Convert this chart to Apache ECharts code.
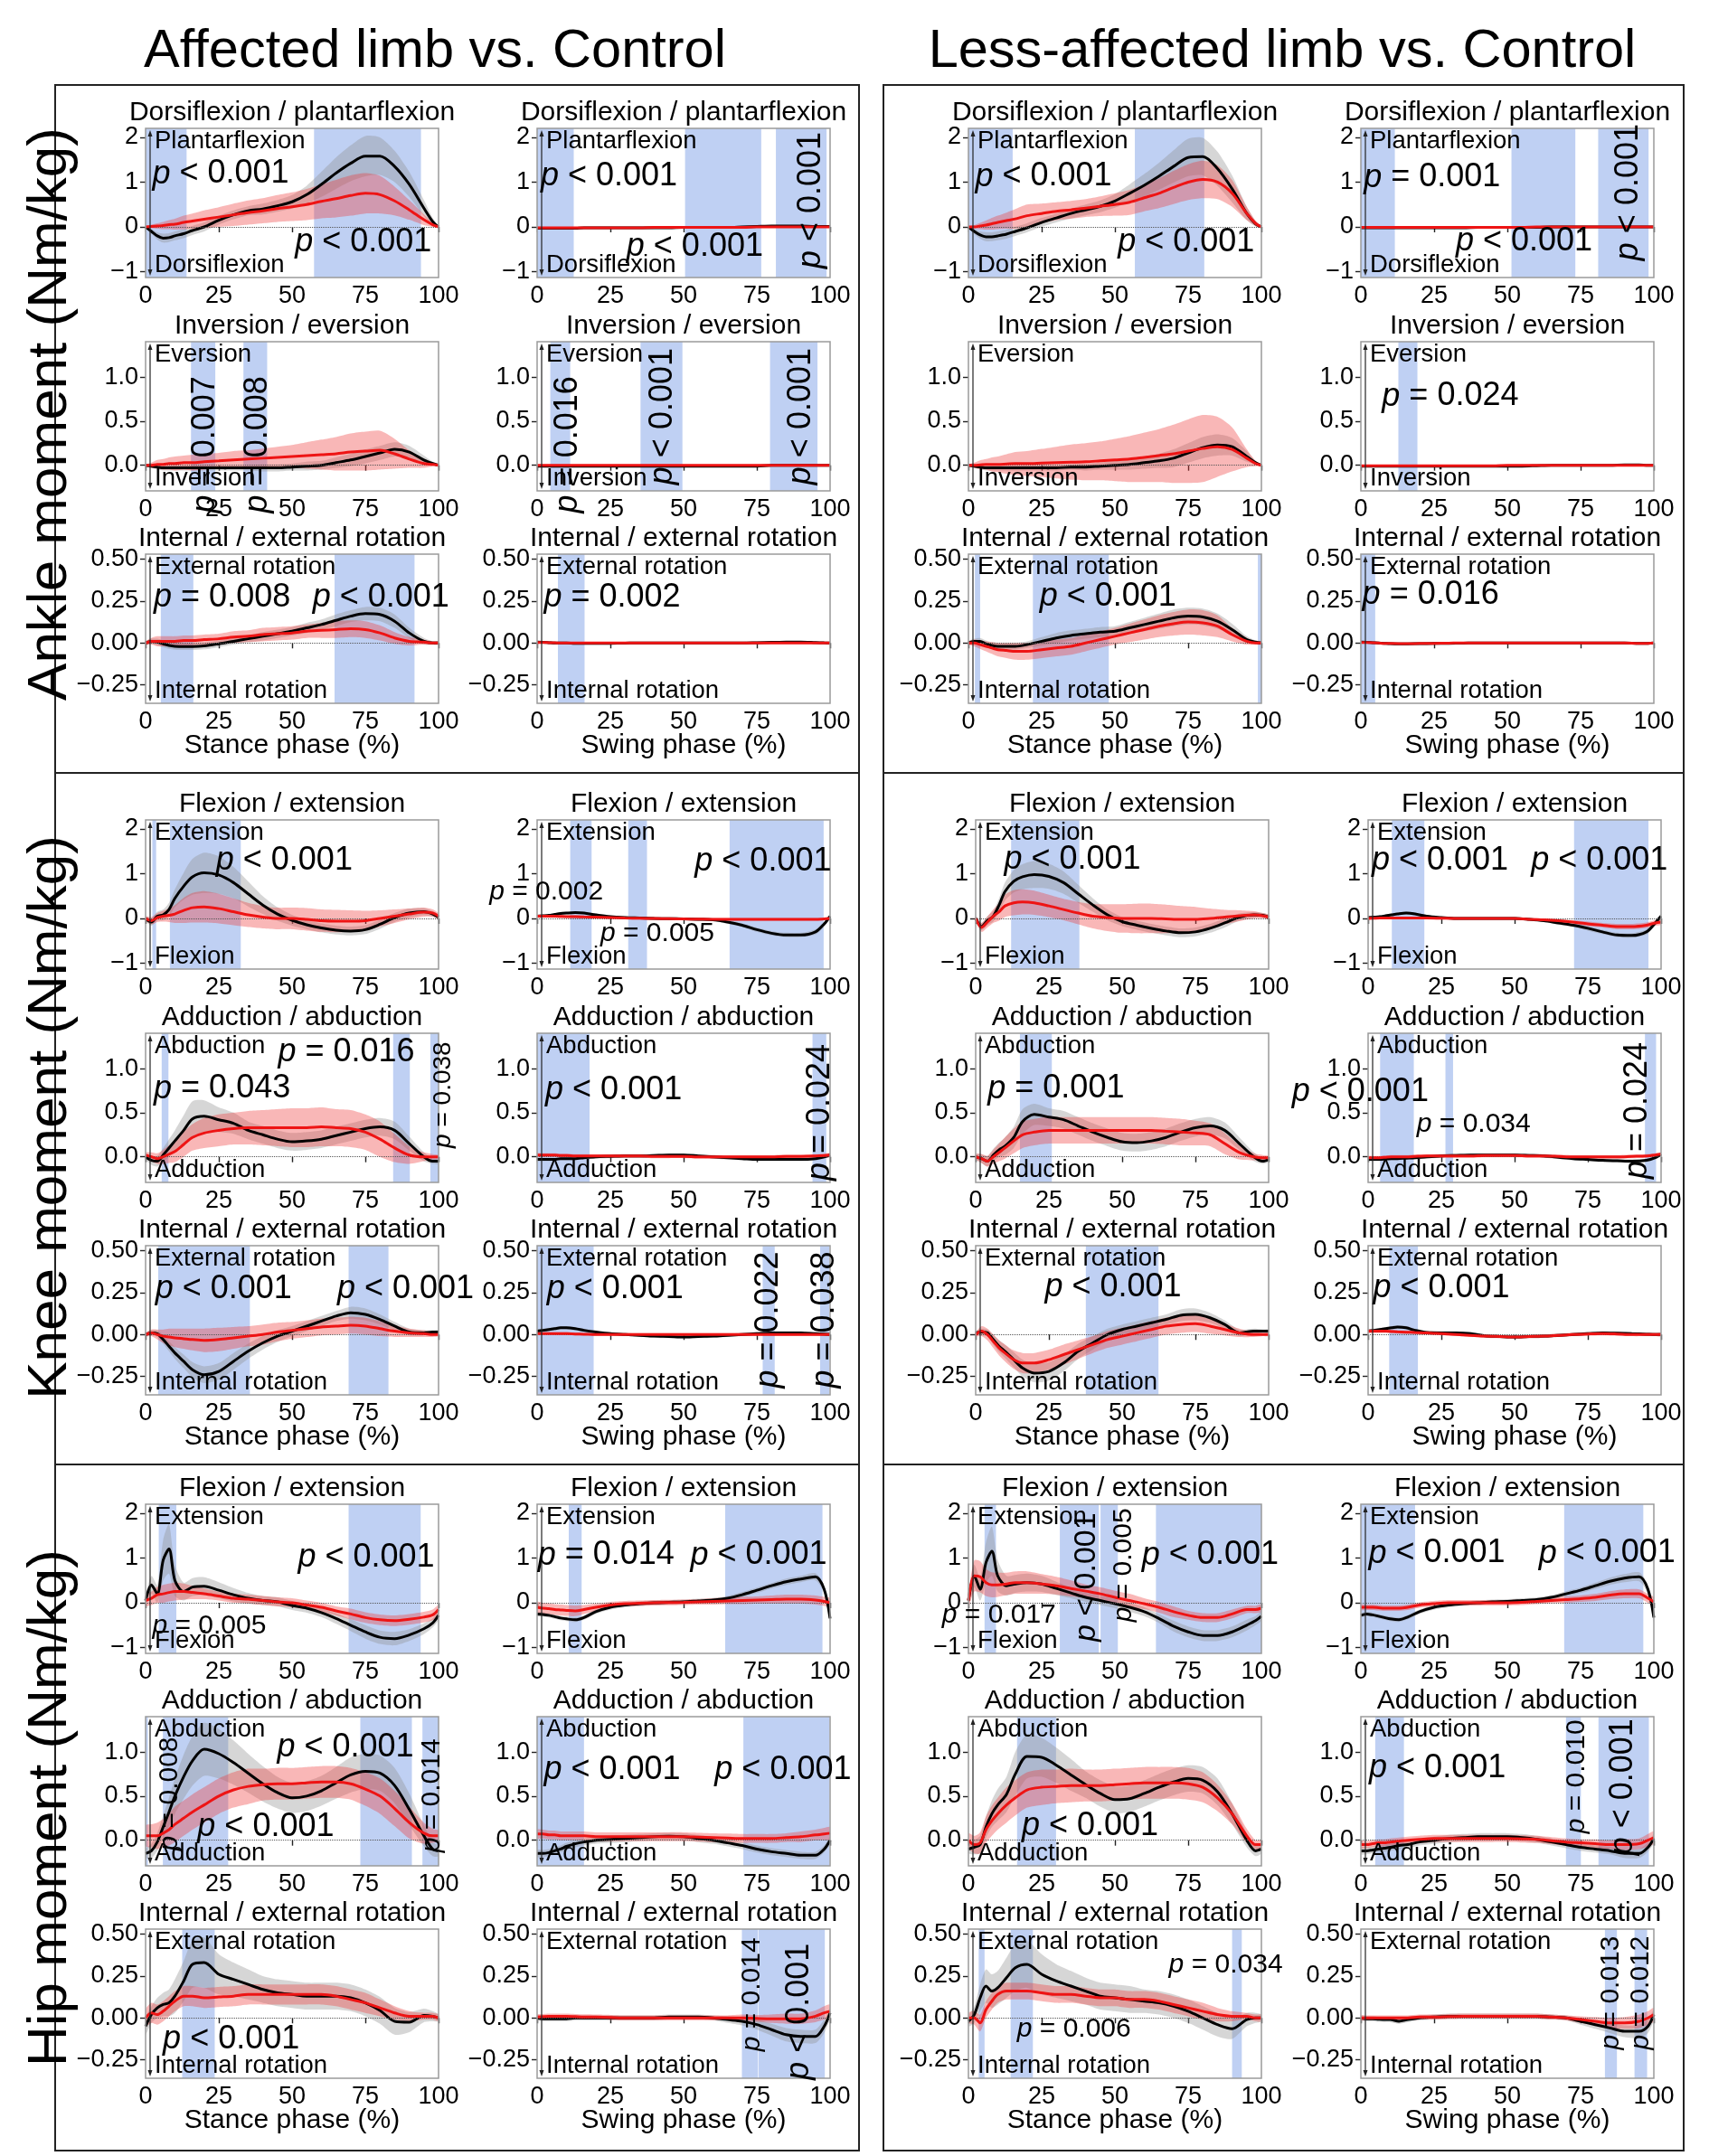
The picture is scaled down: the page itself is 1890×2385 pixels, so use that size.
<!DOCTYPE html>
<html>
<head>
<meta charset="utf-8">
<script src="https://cdn.jsdelivr.net/npm/echarts@6/dist/echarts.min.js"></script>
<style>
html,body{margin:0;padding:0;background:#fff}
#chart{width:1890px;height:2385px}
</style>
</head>
<body>
<div id="chart"></div>
<script>
// sample points along the phase (%)
var X = [0,2,4,6,8,10, 13,16,20, 25,30,35,40,45,50,55,60,65,70,75,80,85,90,95, 98,100];

// each panel: [control mean, control sd, patient mean, patient sd]
// ---- ankle, affected limb
var ankleSagAffSt = [
  [0,-0.1,-0.2,-0.25,-0.24,-0.2, -0.15,-0.08,0, 0.15,0.27,0.36,0.4,0.47,0.56,0.72,0.95,1.2,1.42,1.58,1.58,1.35,0.95,0.42, 0.12,0],
  [0.02,0.05,0.08,0.1,0.1,0.1, 0.1,0.1,0.1, 0.1,0.1,0.1,0.12,0.13,0.15,0.2,0.28,0.35,0.4,0.45,0.42,0.35,0.28,0.18, 0.08,0.02],
  [0,0.01,0.02,0.03,0.05,0.06, 0.1,0.13,0.17, 0.22,0.27,0.32,0.36,0.41,0.45,0.5,0.57,0.63,0.7,0.75,0.72,0.58,0.38,0.16, 0.05,0],
  [0.02,0.04,0.06,0.08,0.1,0.12, 0.15,0.17,0.2, 0.22,0.25,0.27,0.28,0.3,0.32,0.35,0.38,0.42,0.45,0.45,0.42,0.32,0.22,0.12, 0.05,0.02]];
var ankleSagAffSw = [
  [-0.03,-0.03,-0.03,-0.03,-0.03,-0.03, -0.03,-0.02,-0.02, -0.02,-0.02,-0.02,-0.02,-0.02,-0.01,-0.01,-0.01,-0.01,0,0.01,0.02,0.02,0.02,0.01, 0.01,0.01],
  [0.02,0.02,0.02,0.02,0.02,0.02, 0.02,0.02,0.02, 0.02,0.02,0.02,0.02,0.02,0.02,0.02,0.02,0.02,0.02,0.02,0.02,0.02,0.02,0.02, 0.02,0.02],
  [-0.02,-0.02,-0.02,-0.02,-0.02,-0.02, -0.02,-0.02,-0.02, -0.02,-0.02,-0.02,-0.01,-0.01,-0.01,-0.01,-0.01,-0.01,-0.01,0,0,0,0,0, 0,0],
  [0.02,0.02,0.02,0.02,0.02,0.02, 0.02,0.02,0.02, 0.02,0.02,0.02,0.02,0.02,0.02,0.02,0.02,0.02,0.02,0.02,0.02,0.02,0.02,0.02, 0.02,0.02]];
var ankleFrAffSt = [
  [0,-0.01,-0.02,-0.03,-0.03,-0.03, -0.03,-0.03,-0.03, -0.03,-0.03,-0.03,-0.03,-0.03,-0.02,-0.01,0,0.03,0.06,0.1,0.14,0.18,0.15,0.06, 0.02,0],
  [0.01,0.02,0.03,0.03,0.03,0.03, 0.03,0.03,0.03, 0.03,0.03,0.03,0.04,0.04,0.04,0.05,0.05,0.06,0.07,0.08,0.08,0.08,0.07,0.05, 0.02,0.01],
  [0,0,0.01,0.01,0.02,0.02, 0.03,0.03,0.04, 0.05,0.06,0.07,0.08,0.09,0.1,0.11,0.12,0.13,0.15,0.16,0.17,0.13,0.07,0.02, 0.01,0],
  [0.01,0.03,0.05,0.06,0.07,0.08, 0.08,0.09,0.09, 0.09,0.1,0.1,0.11,0.12,0.13,0.15,0.17,0.19,0.21,0.22,0.22,0.17,0.1,0.05, 0.02,0.01]];
var ankleFrAffSw = [
  [-0.01,-0.01,-0.01,-0.01,-0.01,-0.01, -0.01,-0.01,-0.01, -0.01,-0.01,-0.01,-0.01,-0.01,-0.01,-0.01,-0.01,-0.01,-0.01,-0.01,0,0,0,0, 0,0],
  [0.01,0.01,0.01,0.01,0.01,0.01, 0.01,0.01,0.01, 0.01,0.01,0.01,0.01,0.01,0.01,0.01,0.01,0.01,0.01,0.01,0.01,0.01,0.01,0.01, 0.01,0.01],
  [0,0,0,0,0,0, 0,0,0, 0,0,0,0,0,0,0,0,0,0,0,0,0,0,0, 0,0],
  [0.01,0.01,0.01,0.01,0.01,0.01, 0.01,0.01,0.01, 0.01,0.01,0.01,0.01,0.01,0.01,0.01,0.01,0.01,0.01,0.01,0.01,0.01,0.01,0.01, 0.01,0.01]];
var ankleTrAffSt = [
  [0,0.01,0.005,-0.005,-0.015,-0.02, -0.022,-0.022,-0.018, -0.005,0.01,0.025,0.04,0.055,0.07,0.09,0.11,0.135,0.16,0.175,0.17,0.13,0.06,0.01, 0,0],
  [0.01,0.015,0.02,0.02,0.02,0.02, 0.02,0.02,0.02, 0.02,0.02,0.02,0.025,0.025,0.025,0.03,0.03,0.035,0.035,0.04,0.04,0.04,0.03,0.02, 0.01,0.01],
  [0,0.01,0.01,0.01,0.01,0.01, 0.015,0.015,0.02, 0.025,0.035,0.04,0.05,0.055,0.06,0.07,0.075,0.08,0.085,0.08,0.06,0.03,0.01,0.005, 0,0],
  [0.01,0.02,0.03,0.03,0.03,0.03, 0.03,0.03,0.03, 0.03,0.035,0.035,0.04,0.04,0.04,0.04,0.045,0.05,0.05,0.05,0.045,0.035,0.025,0.015, 0.01,0.01]];
var ankleTrAffSw = [
  [0.005,0.004,0.002,0,0,0, -0.003,-0.003,-0.003, -0.002,-0.001,0,0,0,0,0,0,0,0,0.002,0.004,0.006,0.006,0.003, 0.001,0],
  [0.006,0.006,0.006,0.006,0.006,0.006, 0.006,0.006,0.006, 0.006,0.006,0.006,0.006,0.006,0.006,0.006,0.006,0.006,0.006,0.006,0.006,0.006,0.006,0.006, 0.006,0.006],
  [0.003,0.003,0.002,0.001,0,0, 0,0,0, 0,0,0,0,0,0,0,0,0,0,0,0,0,0,0, 0,0],
  [0.006,0.006,0.006,0.006,0.006,0.006, 0.006,0.006,0.006, 0.006,0.006,0.006,0.006,0.006,0.006,0.006,0.006,0.006,0.006,0.006,0.006,0.006,0.006,0.006, 0.006,0.006]];
// ---- ankle, less-affected limb
var ankleSagLesSt = [
  [0,-0.1,-0.18,-0.22,-0.22,-0.2, -0.16,-0.1,-0.02, 0.1,0.2,0.3,0.38,0.46,0.58,0.75,0.93,1.13,1.35,1.55,1.57,1.3,0.85,0.3, 0.07,0],
  [0.03,0.06,0.08,0.1,0.1,0.1, 0.1,0.1,0.1, 0.1,0.1,0.11,0.12,0.13,0.15,0.2,0.25,0.3,0.36,0.42,0.42,0.38,0.3,0.15, 0.06,0.02],
  [0,0,0.02,0.04,0.07,0.1, 0.14,0.18,0.25, 0.3,0.35,0.38,0.42,0.46,0.5,0.55,0.65,0.75,0.88,1,1.06,1,0.75,0.3, 0.08,0],
  [0.02,0.04,0.07,0.1,0.13,0.15, 0.18,0.22,0.25, 0.22,0.2,0.2,0.2,0.22,0.25,0.28,0.3,0.33,0.37,0.4,0.42,0.38,0.3,0.15, 0.06,0.02]];
var ankleSagLesSw = [
  [-0.02,-0.02,-0.02,-0.02,-0.02,-0.02, -0.02,-0.02,-0.02, -0.02,-0.02,-0.02,-0.01,-0.01,-0.01,-0.01,-0.01,0,0,0,0,0,0,0, 0,0],
  [0.015,0.015,0.015,0.015,0.015,0.015, 0.015,0.015,0.015, 0.015,0.015,0.015,0.015,0.015,0.015,0.015,0.015,0.015,0.015,0.015,0.015,0.015,0.015,0.015, 0.015,0.015],
  [-0.01,-0.01,-0.01,-0.01,-0.01,-0.01, -0.01,-0.01,-0.01, -0.01,-0.01,-0.01,-0.01,-0.01,-0.01,-0.01,0,0,0,0,0,0,0,0, 0,0],
  [0.015,0.015,0.015,0.015,0.015,0.015, 0.015,0.015,0.015, 0.015,0.015,0.015,0.015,0.015,0.015,0.015,0.015,0.015,0.015,0.015,0.015,0.015,0.015,0.015, 0.015,0.015]];
var ankleFrLesSt = [
  [0,-0.01,-0.02,-0.03,-0.03,-0.03, -0.03,-0.03,-0.03, -0.03,-0.03,-0.02,-0.02,-0.01,0,0.01,0.03,0.05,0.08,0.14,0.2,0.23,0.21,0.1, 0.03,0],
  [0.01,0.02,0.03,0.03,0.03,0.03, 0.03,0.03,0.03, 0.03,0.03,0.03,0.04,0.04,0.05,0.06,0.07,0.08,0.1,0.11,0.12,0.12,0.1,0.06, 0.02,0.01],
  [0,0,0.005,0.01,0.01,0.01, 0.015,0.02,0.02, 0.025,0.03,0.035,0.04,0.05,0.06,0.07,0.09,0.11,0.13,0.16,0.19,0.21,0.18,0.08, 0.02,0],
  [0.01,0.03,0.05,0.06,0.08,0.09, 0.11,0.13,0.14, 0.16,0.18,0.2,0.21,0.22,0.24,0.26,0.28,0.3,0.33,0.36,0.38,0.34,0.25,0.1, 0.03,0.01]];
var ankleFrLesSw = [
  [-0.01,-0.01,-0.01,-0.01,-0.01,-0.01, -0.01,-0.01,-0.01, -0.01,-0.01,-0.01,-0.01,-0.01,-0.01,-0.01,-0.005,0,0,0,0,0,0.005,0.005, 0,0],
  [0.008,0.008,0.008,0.008,0.008,0.008, 0.008,0.008,0.008, 0.008,0.008,0.008,0.008,0.008,0.008,0.008,0.008,0.008,0.008,0.008,0.008,0.008,0.008,0.008, 0.008,0.008],
  [-0.005,-0.005,-0.005,-0.005,-0.005,-0.005, -0.005,-0.005,-0.005, -0.005,-0.005,-0.005,-0.005,-0.005,0,0,0,0,0,0,0,0,0,0, 0,0],
  [0.008,0.008,0.008,0.008,0.008,0.008, 0.008,0.008,0.008, 0.008,0.008,0.008,0.008,0.008,0.008,0.008,0.008,0.008,0.008,0.008,0.008,0.008,0.008,0.008, 0.008,0.008]];
var ankleTrLesSt = [
  [0,0.01,0.01,-0.005,-0.015,-0.02, -0.02,-0.02,-0.01, 0.01,0.03,0.045,0.055,0.065,0.07,0.09,0.11,0.13,0.15,0.16,0.155,0.13,0.08,0.02, 0.005,0],
  [0.01,0.015,0.02,0.02,0.02,0.02, 0.02,0.02,0.02, 0.025,0.03,0.03,0.03,0.03,0.03,0.035,0.04,0.045,0.05,0.05,0.05,0.045,0.035,0.02, 0.01,0.01],
  [0,0,-0.01,-0.02,-0.03,-0.04, -0.045,-0.05,-0.05, -0.04,-0.03,-0.02,0,0.02,0.04,0.06,0.08,0.1,0.115,0.125,0.12,0.1,0.05,0.01, 0,0],
  [0.01,0.02,0.025,0.03,0.035,0.04, 0.045,0.05,0.05, 0.05,0.05,0.05,0.05,0.05,0.05,0.055,0.06,0.065,0.07,0.075,0.075,0.065,0.04,0.02, 0.01,0.01]];
var ankleTrLesSw = [
  [0.005,0.004,0.002,0,-0.002,-0.004, -0.005,-0.005,-0.004, -0.003,-0.002,-0.001,0,0,0,0,0,0,0,0,0,0,0,-0.002, -0.002,0],
  [0.006,0.006,0.006,0.006,0.006,0.006, 0.006,0.006,0.006, 0.006,0.006,0.006,0.006,0.006,0.006,0.006,0.006,0.006,0.006,0.006,0.006,0.006,0.006,0.006, 0.006,0.006],
  [0.003,0.003,0.002,0,-0.002,-0.003, -0.004,-0.004,-0.003, -0.002,-0.001,0,0,0,0,0,0,0,0,0,0,0,0,-0.002, -0.002,0],
  [0.006,0.006,0.006,0.006,0.006,0.006, 0.006,0.006,0.006, 0.006,0.006,0.006,0.006,0.006,0.006,0.006,0.006,0.006,0.006,0.006,0.006,0.006,0.006,0.006, 0.006,0.006]];
// ---- knee, affected limb
var kneeSagAffSt = [
  [0,-0.08,0.05,0.08,0.2,0.45, 0.72,0.93,1.02, 0.97,0.8,0.55,0.3,0.1,-0.04,-0.14,-0.21,-0.26,-0.28,-0.25,-0.13,0.02,0.12,0.15, 0.1,0.03],
  [0.05,0.08,0.1,0.12,0.15,0.2, 0.3,0.4,0.45, 0.42,0.35,0.28,0.2,0.15,0.12,0.1,0.1,0.1,0.1,0.1,0.1,0.1,0.1,0.08, 0.06,0.05],
  [0,-0.05,0.02,0.05,0.07,0.1, 0.18,0.24,0.26, 0.22,0.15,0.08,0.03,0,0,-0.02,-0.05,-0.06,-0.06,-0.05,0,0.05,0.1,0.14, 0.12,0.05],
  [0.05,0.08,0.1,0.12,0.15,0.2, 0.28,0.33,0.35, 0.33,0.3,0.27,0.25,0.24,0.24,0.25,0.25,0.25,0.24,0.22,0.18,0.15,0.12,0.1, 0.08,0.06]];
var kneeFrAffSt = [
  [0,-0.04,-0.05,0.02,0.1,0.18, 0.3,0.43,0.46, 0.42,0.38,0.3,0.25,0.2,0.17,0.18,0.2,0.24,0.28,0.32,0.34,0.3,0.15,0, -0.05,-0.05],
  [0.03,0.05,0.06,0.08,0.1,0.12, 0.17,0.2,0.18, 0.14,0.12,0.1,0.1,0.1,0.1,0.1,0.1,0.1,0.1,0.1,0.1,0.1,0.08,0.05, 0.03,0.03],
  [0.02,0,-0.02,0,0.03,0.06, 0.14,0.22,0.27, 0.3,0.32,0.33,0.33,0.33,0.33,0.33,0.34,0.33,0.32,0.28,0.2,0.1,0.02,0, 0,0],
  [0.03,0.05,0.06,0.08,0.1,0.12, 0.14,0.15,0.17, 0.18,0.18,0.19,0.2,0.21,0.22,0.22,0.22,0.21,0.21,0.2,0.2,0.16,0.1,0.05, 0.03,0.02]];
var kneeTrAffSt = [
  [0,0.01,0.005,-0.03,-0.07,-0.11, -0.16,-0.21,-0.24, -0.22,-0.16,-0.1,-0.05,-0.01,0.02,0.05,0.08,0.11,0.13,0.12,0.09,0.05,0.015,0.01, 0.015,0.015],
  [0.01,0.015,0.02,0.025,0.03,0.035, 0.04,0.045,0.05, 0.05,0.05,0.045,0.04,0.035,0.03,0.03,0.03,0.03,0.035,0.035,0.03,0.025,0.02,0.015, 0.01,0.01],
  [0,0.01,0,-0.01,-0.015,-0.02, -0.025,-0.03,-0.035, -0.03,-0.02,-0.01,0,0.015,0.025,0.035,0.045,0.05,0.055,0.05,0.035,0.02,0.01,0.005, 0,0],
  [0.01,0.02,0.03,0.04,0.05,0.055, 0.06,0.065,0.07, 0.07,0.065,0.06,0.06,0.055,0.05,0.05,0.05,0.05,0.05,0.05,0.045,0.035,0.025,0.02, 0.015,0.01]];
var kneeSagAffSw = [
  [0.05,0.06,0.07,0.09,0.11,0.12, 0.13,0.12,0.08, 0.04,0.02,0.01,0,-0.005,-0.01,-0.02,-0.03,-0.08,-0.15,-0.25,-0.33,-0.37,-0.37,-0.3, -0.12,0.05],
  [0.03,0.03,0.03,0.03,0.03,0.03, 0.03,0.03,0.03, 0.03,0.03,0.03,0.03,0.03,0.03,0.03,0.03,0.04,0.04,0.05,0.05,0.05,0.05,0.06, 0.06,0.05],
  [0.05,0.05,0.05,0.05,0.045,0.04, 0.04,0.035,0.03, 0.02,0.01,0.005,0,-0.005,-0.01,-0.015,-0.02,-0.02,-0.02,-0.02,-0.02,-0.02,-0.02,-0.02, -0.01,0],
  [0.03,0.03,0.03,0.03,0.03,0.03, 0.03,0.03,0.03, 0.03,0.03,0.03,0.03,0.03,0.03,0.03,0.03,0.03,0.03,0.03,0.03,0.03,0.03,0.03, 0.03,0.03]];
var kneeFrAffSw = [
  [-0.03,-0.03,-0.03,-0.03,-0.02,-0.02, -0.02,-0.01,0, 0.005,0.01,0.01,0.015,0.02,0.02,0.01,0,-0.01,-0.02,-0.03,-0.03,-0.03,-0.03,-0.02, 0,0.02],
  [0.02,0.02,0.02,0.02,0.02,0.02, 0.02,0.02,0.02, 0.02,0.02,0.02,0.02,0.02,0.02,0.02,0.02,0.02,0.02,0.02,0.02,0.02,0.02,0.02, 0.02,0.02],
  [0.02,0.02,0.02,0.02,0.015,0.015, 0.01,0.01,0.01, 0.01,0.01,0.01,0.005,0.005,0.005,0,0,0,0,0,0,0.005,0.005,0.01, 0.015,0.02],
  [0.02,0.02,0.02,0.02,0.02,0.02, 0.02,0.02,0.02, 0.02,0.02,0.02,0.02,0.02,0.02,0.02,0.02,0.02,0.02,0.02,0.02,0.02,0.02,0.02, 0.02,0.02]];
var kneeTrAffSw = [
  [0.02,0.025,0.03,0.035,0.04,0.04, 0.035,0.025,0.015, 0.005,0,-0.005,-0.01,-0.012,-0.015,-0.012,-0.01,-0.005,0,0.005,0.01,0.01,0.01,0.005, 0.003,0],
  [0.01,0.01,0.01,0.01,0.01,0.01, 0.01,0.01,0.01, 0.01,0.01,0.01,0.01,0.01,0.01,0.01,0.01,0.01,0.01,0.01,0.01,0.01,0.01,0.01, 0.01,0.01],
  [0.005,0.005,0.005,0.005,0.005,0.005, 0.003,0.002,0, 0,0,0,0,0,0,0,0,0,0,0,0,0,0,0, 0,0],
  [0.008,0.008,0.008,0.008,0.008,0.008, 0.008,0.008,0.008, 0.008,0.008,0.008,0.008,0.008,0.008,0.008,0.008,0.008,0.008,0.008,0.008,0.008,0.008,0.008, 0.008,0.008]];
// ---- knee, less-affected limb
var kneeSagLesSt = [
  [0,-0.18,-0.05,0.05,0.3,0.6, 0.83,0.93,0.98, 0.94,0.8,0.55,0.3,0.08,-0.07,-0.15,-0.22,-0.28,-0.32,-0.3,-0.22,-0.1,0.03,0.08, 0.07,0.03],
  [0.05,0.08,0.1,0.12,0.15,0.2, 0.25,0.28,0.3, 0.28,0.25,0.2,0.15,0.12,0.1,0.1,0.1,0.1,0.1,0.1,0.1,0.1,0.08,0.06, 0.05,0.05],
  [0,-0.2,-0.08,0.05,0.15,0.28, 0.35,0.37,0.35, 0.28,0.2,0.12,0.05,0.02,0,0,0,-0.01,-0.02,-0.02,0,0.03,0.06,0.08, 0.06,0.03],
  [0.05,0.1,0.12,0.15,0.2,0.25, 0.28,0.28,0.27, 0.25,0.24,0.25,0.27,0.3,0.32,0.33,0.33,0.32,0.3,0.28,0.22,0.16,0.12,0.08, 0.06,0.05]];
var kneeFrLesSt = [
  [0,-0.02,-0.05,0.02,0.08,0.12, 0.22,0.4,0.48, 0.45,0.42,0.35,0.28,0.22,0.17,0.16,0.18,0.22,0.28,0.33,0.35,0.3,0.15,0, -0.05,-0.03],
  [0.03,0.05,0.06,0.07,0.08,0.1, 0.12,0.14,0.12, 0.1,0.1,0.1,0.1,0.1,0.1,0.1,0.1,0.1,0.1,0.1,0.1,0.09,0.07,0.05, 0.03,0.03],
  [0,-0.02,-0.05,0,0.05,0.1, 0.18,0.25,0.28, 0.3,0.3,0.3,0.3,0.3,0.3,0.3,0.3,0.29,0.28,0.27,0.25,0.15,0.05,0, -0.01,-0.01],
  [0.03,0.05,0.06,0.08,0.1,0.12, 0.14,0.15,0.15, 0.15,0.15,0.15,0.15,0.15,0.15,0.15,0.15,0.15,0.15,0.14,0.13,0.12,0.08,0.04, 0.03,0.02]];
var kneeTrLesSt = [
  [0.01,0.015,0.01,-0.03,-0.07,-0.1, -0.15,-0.2,-0.23, -0.22,-0.17,-0.1,-0.05,0,0.03,0.05,0.07,0.09,0.115,0.12,0.1,0.06,0.01,0.02, 0.02,0.02],
  [0.01,0.02,0.02,0.03,0.035,0.04, 0.045,0.05,0.055, 0.055,0.05,0.045,0.04,0.035,0.03,0.03,0.03,0.03,0.035,0.035,0.03,0.025,0.02,0.015, 0.01,0.01],
  [0,0.02,0,-0.04,-0.08,-0.11, -0.15,-0.17,-0.17, -0.15,-0.12,-0.09,-0.06,-0.03,-0.01,0.01,0.03,0.05,0.06,0.065,0.05,0.03,0.01,0, 0,0],
  [0.01,0.03,0.035,0.04,0.045,0.05, 0.055,0.06,0.06, 0.06,0.06,0.055,0.05,0.05,0.05,0.05,0.05,0.05,0.05,0.05,0.045,0.035,0.025,0.015, 0.01,0.01]];
var kneeSagLesSw = [
  [0.02,0.03,0.04,0.06,0.08,0.1, 0.12,0.1,0.05, 0.02,0,0,0,0,0,-0.02,-0.05,-0.1,-0.15,-0.22,-0.3,-0.37,-0.38,-0.3, -0.1,0.05],
  [0.03,0.03,0.03,0.03,0.03,0.03, 0.03,0.03,0.03, 0.03,0.03,0.03,0.03,0.03,0.03,0.03,0.03,0.04,0.04,0.05,0.05,0.05,0.05,0.06, 0.06,0.05],
  [0,0.005,0.01,0.01,0.01,0.01, 0.01,0.01,0.01, 0.005,0,0,0,0,0,-0.02,-0.03,-0.05,-0.08,-0.12,-0.15,-0.18,-0.18,-0.15, -0.1,-0.08],
  [0.03,0.03,0.03,0.03,0.03,0.03, 0.03,0.03,0.03, 0.03,0.03,0.03,0.03,0.03,0.03,0.03,0.03,0.04,0.04,0.05,0.05,0.06,0.06,0.06, 0.06,0.06]];
var kneeFrLesSw = [
  [-0.03,-0.03,-0.03,-0.025,-0.02,-0.02, -0.015,-0.01,0, 0.01,0.015,0.02,0.02,0.02,0.02,0.015,0.01,-0.005,-0.02,-0.03,-0.04,-0.045,-0.05,-0.04, -0.01,0.03],
  [0.02,0.02,0.02,0.02,0.02,0.02, 0.02,0.02,0.02, 0.02,0.02,0.02,0.02,0.02,0.02,0.02,0.02,0.02,0.02,0.02,0.02,0.02,0.02,0.02, 0.02,0.02],
  [-0.01,-0.01,-0.01,-0.005,0,0, 0,0.005,0.01, 0.01,0.01,0.01,0.015,0.015,0.015,0.01,0.01,0.005,0,0,0,0,0.005,0.01, 0.02,0.03],
  [0.02,0.02,0.02,0.02,0.02,0.02, 0.02,0.02,0.02, 0.02,0.02,0.02,0.02,0.02,0.02,0.02,0.02,0.02,0.02,0.02,0.02,0.02,0.02,0.02, 0.02,0.02]];
var kneeTrLesSw = [
  [0.02,0.025,0.03,0.035,0.04,0.045, 0.04,0.025,0.012, 0.01,0.01,0.005,-0.008,-0.012,-0.015,-0.012,-0.01,-0.005,0,0.005,0.01,0.008,0.005,0.002, 0,0],
  [0.01,0.01,0.01,0.01,0.01,0.01, 0.01,0.01,0.01, 0.01,0.01,0.01,0.01,0.01,0.01,0.01,0.01,0.01,0.01,0.01,0.01,0.01,0.01,0.01, 0.01,0.01],
  [0.02,0.02,0.02,0.02,0.018,0.016, 0.014,0.012,0.01, 0.005,0,-0.005,-0.01,-0.012,-0.015,-0.012,-0.01,-0.005,0,0.003,0.005,0.003,0,0, 0,0],
  [0.01,0.01,0.01,0.01,0.01,0.01, 0.01,0.01,0.01, 0.01,0.01,0.01,0.01,0.01,0.01,0.01,0.01,0.01,0.01,0.01,0.01,0.01,0.01,0.01, 0.01,0.01]];
// ---- hip, affected limb
var hipSagAffSt = [
  [0.05,0.4,0.2,0.95,1.2,0.5, 0.25,0.35,0.37, 0.28,0.18,0.1,0.05,0.02,-0.06,-0.12,-0.22,-0.35,-0.5,-0.65,-0.77,-0.8,-0.72,-0.58, -0.45,-0.28],
  [0.1,0.2,0.2,0.45,0.55,0.35, 0.2,0.2,0.2, 0.18,0.15,0.12,0.1,0.1,0.1,0.1,0.1,0.12,0.13,0.15,0.15,0.15,0.13,0.12, 0.1,0.1],
  [0.05,0.1,0.18,0.2,0.23,0.25, 0.25,0.23,0.2, 0.15,0.1,0.08,0.05,0.02,0,-0.05,-0.1,-0.18,-0.25,-0.33,-0.38,-0.4,-0.37,-0.32, -0.27,-0.15],
  [0.12,0.15,0.18,0.2,0.2,0.2, 0.18,0.15,0.12, 0.1,0.1,0.1,0.1,0.1,0.1,0.1,0.1,0.1,0.12,0.12,0.12,0.12,0.12,0.12, 0.12,0.1]];
var hipFrAffSt = [
  [-0.15,-0.12,-0.02,0.15,0.32,0.5, 0.72,0.9,1.03, 0.98,0.88,0.76,0.64,0.54,0.48,0.5,0.56,0.65,0.74,0.78,0.76,0.62,0.35,0.05, -0.1,-0.12],
  [0.05,0.08,0.1,0.13,0.16,0.2, 0.25,0.28,0.3, 0.28,0.25,0.22,0.2,0.18,0.17,0.17,0.17,0.18,0.2,0.2,0.2,0.2,0.18,0.12, 0.08,0.06],
  [0.05,0.05,0.05,0.08,0.12,0.18, 0.25,0.32,0.4, 0.5,0.57,0.61,0.63,0.64,0.64,0.65,0.66,0.66,0.64,0.58,0.5,0.36,0.2,0.08, 0.05,0.05],
  [0.12,0.13,0.15,0.16,0.18,0.2, 0.2,0.2,0.2, 0.2,0.2,0.2,0.18,0.18,0.18,0.18,0.18,0.18,0.18,0.19,0.2,0.2,0.18,0.12, 0.08,0.06]];
var hipTrAffSt = [
  [-0.05,0.02,0.06,0.08,0.09,0.13, 0.22,0.32,0.33, 0.26,0.23,0.2,0.17,0.15,0.14,0.13,0.13,0.13,0.12,0.09,0.045,-0.02,-0.025,0.015, 0.01,0],
  [0.05,0.05,0.06,0.07,0.08,0.1, 0.12,0.14,0.15, 0.12,0.1,0.09,0.08,0.08,0.08,0.08,0.08,0.08,0.08,0.08,0.08,0.08,0.06,0.04, 0.03,0.02],
  [0,0.03,0.02,0.04,0.07,0.1, 0.13,0.13,0.12, 0.125,0.13,0.14,0.14,0.14,0.14,0.14,0.14,0.13,0.11,0.09,0.06,0.03,0.01,0.01, 0.01,0],
  [0.05,0.06,0.06,0.06,0.06,0.06, 0.06,0.06,0.06, 0.06,0.06,0.06,0.06,0.06,0.06,0.06,0.06,0.06,0.06,0.06,0.05,0.04,0.03,0.02, 0.02,0.02]];
var hipSagAffSw = [
  [-0.25,-0.26,-0.28,-0.31,-0.34,-0.36, -0.38,-0.33,-0.2, -0.1,-0.05,-0.02,0,0.01,0.02,0.04,0.06,0.1,0.18,0.28,0.38,0.47,0.53,0.58, 0.3,-0.35],
  [0.05,0.05,0.05,0.05,0.05,0.05, 0.05,0.05,0.05, 0.05,0.05,0.05,0.05,0.05,0.05,0.05,0.05,0.05,0.06,0.06,0.06,0.07,0.07,0.08, 0.08,0.08],
  [-0.1,-0.12,-0.13,-0.15,-0.16,-0.17, -0.18,-0.15,-0.1, -0.05,-0.02,-0.01,0,0.005,0.01,0.02,0.03,0.04,0.05,0.06,0.07,0.08,0.08,0.06, 0.03,0],
  [0.12,0.12,0.12,0.12,0.12,0.12, 0.12,0.1,0.08, 0.07,0.06,0.06,0.06,0.06,0.06,0.06,0.07,0.07,0.08,0.08,0.09,0.1,0.1,0.1, 0.1,0.1]];
var hipFrAffSw = [
  [-0.15,-0.15,-0.14,-0.12,-0.1,-0.07, -0.04,-0.02,0, 0.01,0.02,0.03,0.04,0.045,0.04,0.02,0,-0.03,-0.06,-0.1,-0.13,-0.15,-0.17,-0.17, -0.1,0],
  [0.04,0.04,0.04,0.04,0.04,0.04, 0.04,0.04,0.04, 0.04,0.04,0.04,0.04,0.04,0.04,0.04,0.04,0.04,0.04,0.04,0.04,0.04,0.04,0.04, 0.04,0.04],
  [0.07,0.07,0.06,0.06,0.05,0.05, 0.05,0.05,0.04, 0.04,0.04,0.04,0.04,0.04,0.04,0.035,0.03,0.025,0.02,0.02,0.02,0.03,0.04,0.06, 0.07,0.08],
  [0.05,0.05,0.05,0.05,0.05,0.05, 0.05,0.05,0.05, 0.05,0.05,0.05,0.05,0.05,0.05,0.05,0.05,0.05,0.05,0.05,0.05,0.05,0.06,0.06, 0.07,0.07]];
var hipTrAffSw = [
  [0,-0.005,-0.005,-0.005,-0.005,-0.005, 0,0,0, 0,0,0,0,0.005,0.005,0.005,0,-0.01,-0.02,-0.04,-0.07,-0.1,-0.11,-0.11, -0.05,0.03],
  [0.015,0.015,0.015,0.015,0.015,0.015, 0.015,0.015,0.015, 0.015,0.015,0.015,0.015,0.015,0.015,0.015,0.015,0.02,0.025,0.03,0.035,0.04,0.04,0.04, 0.04,0.03],
  [0.005,0.008,0.01,0.01,0.01,0.01, 0.008,0.006,0.005, 0.003,0,0,0,0,0,0,0,0,0,-0.003,-0.005,-0.005,-0.005,0.01, 0.03,0.04],
  [0.015,0.015,0.015,0.015,0.015,0.015, 0.015,0.015,0.015, 0.015,0.015,0.015,0.015,0.015,0.015,0.015,0.015,0.015,0.02,0.02,0.025,0.03,0.03,0.035, 0.04,0.04]];
// ---- hip, less-affected limb
var hipSagLesSt = [
  [0.05,0.6,0.3,0.9,1.15,0.6, 0.38,0.42,0.45, 0.42,0.32,0.22,0.12,0.05,-0.02,-0.1,-0.2,-0.35,-0.52,-0.65,-0.73,-0.73,-0.65,-0.5, -0.4,-0.3],
  [0.15,0.25,0.25,0.45,0.55,0.35, 0.22,0.2,0.2, 0.18,0.15,0.12,0.1,0.1,0.1,0.1,0.1,0.1,0.12,0.12,0.12,0.12,0.12,0.12, 0.1,0.1],
  [0.05,0.6,0.58,0.45,0.4,0.4, 0.42,0.45,0.45, 0.42,0.38,0.32,0.26,0.2,0.12,0.05,-0.02,-0.1,-0.2,-0.28,-0.33,-0.33,-0.25,-0.15, -0.15,-0.12],
  [0.15,0.35,0.35,0.3,0.28,0.27, 0.25,0.25,0.25, 0.22,0.2,0.18,0.15,0.15,0.15,0.15,0.12,0.12,0.12,0.1,0.1,0.1,0.1,0.08, 0.08,0.08]];
var hipFrLesSt = [
  [-0.1,-0.08,-0.05,0.15,0.3,0.4, 0.52,0.75,0.95, 0.94,0.85,0.74,0.63,0.53,0.46,0.47,0.53,0.6,0.66,0.7,0.68,0.55,0.3,0, -0.12,-0.1],
  [0.05,0.08,0.1,0.12,0.15,0.18, 0.2,0.25,0.25, 0.22,0.2,0.18,0.15,0.15,0.15,0.15,0.15,0.15,0.15,0.15,0.15,0.15,0.12,0.08, 0.06,0.05],
  [0,-0.05,-0.03,0.12,0.22,0.3, 0.4,0.48,0.57, 0.6,0.61,0.62,0.62,0.62,0.63,0.64,0.65,0.65,0.65,0.64,0.6,0.48,0.3,0.05, -0.05,-0.05],
  [0.08,0.1,0.12,0.15,0.17,0.18, 0.2,0.2,0.2, 0.2,0.19,0.19,0.18,0.18,0.18,0.18,0.18,0.18,0.18,0.18,0.17,0.15,0.12,0.08, 0.05,0.05]];
var hipTrLesSt = [
  [-0.02,0.02,0.12,0.19,0.16,0.18, 0.24,0.3,0.32, 0.26,0.22,0.19,0.16,0.13,0.12,0.11,0.1,0.09,0.07,0.04,0,-0.04,-0.065,-0.01, 0,0],
  [0.03,0.05,0.08,0.1,0.1,0.1, 0.12,0.14,0.14, 0.12,0.1,0.09,0.08,0.08,0.08,0.08,0.07,0.07,0.07,0.07,0.07,0.07,0.06,0.04, 0.03,0.02],
  [0,0,-0.03,0.05,0.1,0.14, 0.16,0.16,0.16, 0.15,0.14,0.14,0.13,0.12,0.12,0.11,0.11,0.1,0.08,0.06,0.04,0.02,0.01,0.01, 0,0],
  [0.03,0.04,0.05,0.05,0.05,0.05, 0.05,0.05,0.05, 0.05,0.05,0.05,0.05,0.05,0.05,0.05,0.05,0.05,0.05,0.05,0.05,0.04,0.03,0.02, 0.02,0.02]];
var hipSagLesSw = [
  [-0.28,-0.25,-0.27,-0.3,-0.33,-0.36, -0.38,-0.32,-0.2, -0.1,-0.05,-0.02,0,0.02,0.03,0.05,0.07,0.12,0.2,0.28,0.38,0.48,0.55,0.58, 0.3,-0.33],
  [0.05,0.05,0.05,0.05,0.05,0.05, 0.05,0.05,0.05, 0.05,0.05,0.05,0.05,0.05,0.05,0.05,0.05,0.05,0.06,0.06,0.07,0.08,0.09,0.1, 0.1,0.1],
  [-0.1,-0.1,-0.1,-0.11,-0.12,-0.12, -0.12,-0.1,-0.05, -0.02,0,0,0,0,0,0.01,0.03,0.05,0.07,0.09,0.12,0.17,0.2,0.2, 0.1,0.02],
  [0.06,0.06,0.06,0.06,0.06,0.06, 0.06,0.06,0.06, 0.06,0.06,0.06,0.06,0.06,0.06,0.06,0.06,0.06,0.07,0.07,0.08,0.09,0.1,0.1, 0.1,0.1]];
var hipFrLesSw = [
  [-0.12,-0.12,-0.11,-0.1,-0.09,-0.08, -0.06,-0.05,-0.02, 0,0.02,0.03,0.04,0.04,0.04,0.03,0.01,-0.02,-0.05,-0.08,-0.1,-0.12,-0.15,-0.15, -0.08,0.02],
  [0.04,0.04,0.04,0.04,0.04,0.04, 0.04,0.04,0.04, 0.04,0.04,0.04,0.04,0.04,0.04,0.04,0.04,0.04,0.04,0.04,0.04,0.04,0.05,0.05, 0.05,0.05],
  [-0.05,-0.05,-0.04,-0.03,-0.03,-0.02, -0.01,0,0.01, 0.02,0.02,0.02,0.02,0.02,0.02,0.015,0.01,-0.005,-0.02,-0.03,-0.04,-0.05,-0.05,-0.04, 0,0.03],
  [0.04,0.04,0.04,0.04,0.04,0.04, 0.04,0.04,0.04, 0.04,0.04,0.04,0.04,0.04,0.04,0.04,0.04,0.04,0.04,0.04,0.05,0.05,0.06,0.06, 0.07,0.07]];
var hipTrLesSw = [
  [0,-0.005,-0.005,-0.008,-0.01,-0.01, -0.02,-0.01,0, 0.005,0.01,0.01,0.01,0.01,0.01,0.01,0.01,0.005,0,-0.02,-0.04,-0.06,-0.08,-0.08, -0.05,0.02],
  [0.015,0.015,0.015,0.015,0.015,0.015, 0.015,0.015,0.015, 0.015,0.015,0.015,0.015,0.015,0.015,0.015,0.015,0.015,0.015,0.02,0.025,0.03,0.035,0.04, 0.04,0.03],
  [0,0,0,0,0,0, 0,0,0.005, 0.005,0.008,0.01,0.01,0.01,0.01,0.01,0.01,0.005,0,-0.01,-0.02,-0.03,-0.03,-0.02, 0,0.02],
  [0.015,0.015,0.015,0.015,0.015,0.015, 0.015,0.015,0.015, 0.015,0.015,0.015,0.015,0.015,0.015,0.015,0.015,0.015,0.015,0.02,0.025,0.03,0.035,0.04, 0.04,0.04]];

// significant phases (% start, % end)
var ankleSagAffStSig = [[0,14],[57.5,94]];
var ankleSagAffSwSig = [[0,12.5],[50.5,76.5],[81.5,98.8]];
var ankleFrAffStSig = [[15.5,23.8],[33.4,41.5]];
var ankleFrAffSwSig = [[4.5,11.3],[35.3,49.6],[79.5,95.7]];
var ankleTrAffStSig = [[5.2,16.3],[64.5,91.8]];
var ankleTrAffSwSig = [[7.1,16.2]];
var ankleSagLesStSig = [[0,15.1],[56.8,80.5]];
var ankleSagLesSwSig = [[0,11.6],[51.4,73.2],[81,98.2]];
var ankleFrLesStSig = [];
var ankleFrLesSwSig = [[12.8,19.3]];
var ankleTrLesStSig = [[2.2,4],[22,47.9],[98.8,100]];
var ankleTrLesSwSig = [[0,4.9]];
var kneeSagAffStSig = [[2.3,3.6],[8.3,32.5]];
var kneeFrAffStSig = [[5.5,7.8],[84.5,90.2],[97.2,100]];
var kneeTrAffStSig = [[4.3,35.6],[69.3,82.9]];
var kneeSagAffSwSig = [[11.3,18.6],[31.1,37.5],[65.7,97.8]];
var kneeFrAffSwSig = [[0,17.9],[94,98.7]];
var kneeTrAffSwSig = [[0,19.3],[77,81.1],[96.6,99.7]];
var kneeSagLesStSig = [[12.1,35.4]];
var kneeFrLesStSig = [[15.1,26]];
var kneeTrLesStSig = [[37.6,62.4]];
var kneeSagLesSwSig = [[8.1,19.2],[70.3,95.7]];
var kneeFrLesSwSig = [[4.1,15.6],[26.4,29],[94.5,98.3]];
var kneeTrLesSwSig = [[7.2,17]];
var hipSagAffStSig = [[4.5,10.5],[69.3,93.9]];
var hipFrAffStSig = [[0,0.8],[5.9,28.2],[73.3,90.9],[94.5,100]];
var hipTrAffStSig = [[12.5,23.6]];
var hipSagAffSwSig = [[10.8,15.2],[64.2,97.4]];
var hipFrAffSwSig = [[0,16],[70.4,99.8]];
var hipTrAffSwSig = [[69.9,75.4],[75.6,98.2]];
var hipSagLesStSig = [[5.5,9.4],[31.2,44.5],[45.1,51],[64,100]];
var hipFrLesStSig = [[16.6,29.9]];
var hipTrLesStSig = [[3.5,5.5],[14.4,22],[90,93.3]];
var hipSagLesSwSig = [[0,18.5],[69.4,96.4]];
var hipFrLesSwSig = [[4.9,14.7],[70,75.1],[81.1,98.3]];
var hipTrLesSwSig = [[83.3,87.4],[93.4,97.7]];

// tick labels
var xTicks = [0,25,50,75,100];
var yTicksSag = [-1,0,1,2];
var yTicksFr = [0,0.5,1];
var yTicksTr = [-0.25,0,0.25,0.5];

var JOINT_NAMES = ['Ankle moment (Nm/kg)','Knee moment (Nm/kg)','Hip moment (Nm/kg)'];
var PLANE_TEXT = [
  [['Dorsiflexion / plantarflexion','Plantarflexion','Dorsiflexion'],['Inversion / eversion','Eversion','Inversion'],['Internal / external rotation','External rotation','Internal rotation']],
  [['Flexion / extension','Extension','Flexion'],['Adduction / abduction','Abduction','Adduction'],['Internal / external rotation','External rotation','Internal rotation']],
  [['Flexion / extension','Extension','Flexion'],['Adduction / abduction','Abduction','Adduction'],['Internal / external rotation','External rotation','Internal rotation']]
];
var PHASE_NAMES = ['Stance phase (%)','Swing phase (%)','Stance phase (%)','Swing phase (%)'];

// p-value notes: [op, value, x%, y (data), font size, rotated]
// horizontal: x = left edge, y = middle; rotated: x = middle, y = start of text
var PANELS = [
  {g:0,r:0,c:0,d:ankleSagAffSt,s:ankleSagAffStSig,n:[['<','0.001',2.3,1.18,36,0],['<','0.001',51,-0.34,36,0]]},
  {g:0,r:0,c:1,d:ankleSagAffSw,s:ankleSagAffSwSig,n:[['<','0.001',1.2,1.13,36,0],['<','0.001',30.5,-0.44,36,0],['<','0.001',93.6,-0.93,36,1]]},
  {g:0,r:0,c:2,d:ankleSagLesSt,s:ankleSagLesStSig,n:[['<','0.001',2.3,1.12,36,0],['<','0.001',51,-0.35,36,0]]},
  {g:0,r:0,c:3,d:ankleSagLesSw,s:ankleSagLesSwSig,n:[['=','0.001',1,1.1,36,0],['<','0.001',32.4,-0.33,36,0],['<','0.001',91.5,-0.75,36,1]]},
  {g:0,r:1,c:0,d:ankleFrAffSt,s:ankleFrAffStSig,n:[['=','0.007',20.3,-0.54,36,1],['=','0.008',38.4,-0.54,36,1]]},
  {g:0,r:1,c:1,d:ankleFrAffSw,s:ankleFrAffSwSig,n:[['=','0.016',10.5,-0.54,36,1],['<','0.001',42.8,-0.22,36,1],['<','0.001',90.2,-0.22,36,1]]},
  {g:0,r:1,c:2,d:ankleFrLesSt,s:ankleFrLesStSig,n:[]},
  {g:0,r:1,c:3,d:ankleFrLesSw,s:ankleFrLesSwSig,n:[['=','0.024',7.2,0.78,36,0]]},
  {g:0,r:2,c:0,d:ankleTrAffSt,s:ankleTrAffStSig,n:[['=','0.008',2.8,0.27,36,0],['<','0.001',57,0.27,36,0]]},
  {g:0,r:2,c:1,d:ankleTrAffSw,s:ankleTrAffSwSig,n:[['=','0.002',2.3,0.27,36,0]]},
  {g:0,r:2,c:2,d:ankleTrLesSt,s:ankleTrLesStSig,n:[['<','0.001',24.3,0.277,36,0]]},
  {g:0,r:2,c:3,d:ankleTrLesSw,s:ankleTrLesSwSig,n:[['=','0.016',0.5,0.285,36,0]]},
  {g:1,r:0,c:0,d:kneeSagAffSt,s:kneeSagAffStSig,n:[['<','0.001',24,1.3,36,0]]},
  {g:1,r:0,c:1,d:kneeSagAffSw,s:kneeSagAffSwSig,n:[['<','0.001',53.8,1.27,36,0],['=','0.002',-16.3,0.6,30,0],['=','0.005',21.6,-0.34,30,0]]},
  {g:1,r:0,c:2,d:kneeSagLesSt,s:kneeSagLesStSig,n:[['<','0.001',9.7,1.32,36,0]]},
  {g:1,r:0,c:3,d:kneeSagLesSw,s:kneeSagLesSwSig,n:[['<','0.001',1.2,1.3,36,0],['<','0.001',55.6,1.3,36,0]]},
  {g:1,r:1,c:0,d:kneeFrAffSt,s:kneeFrAffStSig,n:[['=','0.016',45.2,1.18,36,0],['=','0.043',2.8,0.77,36,0],['=','0.038',101.5,0.1,28,1]]},
  {g:1,r:1,c:1,d:kneeFrAffSw,s:kneeFrAffSwSig,n:[['<','0.001',2.8,0.75,36,0],['=','0.024',96.6,-0.27,36,1]]},
  {g:1,r:1,c:2,d:kneeFrLesSt,s:kneeFrLesStSig,n:[['=','0.001',4.1,0.77,36,0]]},
  {g:1,r:1,c:3,d:kneeFrLesSw,s:kneeFrLesSwSig,n:[['<','0.001',-26,0.73,36,0],['=','0.034',16.6,0.365,30,0],['=','0.024',92.1,-0.25,36,1]]},
  {g:1,r:2,c:0,d:kneeTrAffSt,s:kneeTrAffStSig,n:[['<','0.001',3.3,0.27,36,0],['<','0.001',65.4,0.27,36,0]]},
  {g:1,r:2,c:1,d:kneeTrAffSw,s:kneeTrAffSwSig,n:[['<','0.001',3.3,0.27,36,0],['=','0.022',79,-0.32,36,1],['=','0.038',98.1,-0.32,36,1]]},
  {g:1,r:2,c:2,d:kneeTrLesSt,s:kneeTrLesStSig,n:[['<','0.001',23.6,0.28,36,0]]},
  {g:1,r:2,c:3,d:kneeTrLesSw,s:kneeTrLesSwSig,n:[['<','0.001',1.7,0.275,36,0]]},
  {g:2,r:0,c:0,d:hipSagAffSt,s:hipSagAffStSig,n:[['<','0.001',52,1.0,36,0],['=','0.005',2.3,-0.51,30,0]]},
  {g:2,r:0,c:1,d:hipSagAffSw,s:hipSagAffSwSig,n:[['=','0.014',0.2,1.06,36,0],['<','0.001',52.3,1.06,36,0]]},
  {g:2,r:0,c:2,d:hipSagLesSt,s:hipSagLesStSig,n:[['=','0.017',-9,-0.28,30,0],['<','0.001',40.2,-0.87,34,1],['=','0.005',53,-0.43,30,1],['<','0.001',59.2,1.06,36,0]]},
  {g:2,r:0,c:3,d:hipSagLesSw,s:hipSagLesSwSig,n:[['<','0.001',2.6,1.1,36,0],['<','0.001',60.7,1.1,36,0]]},
  {g:2,r:1,c:0,d:hipFrAffSt,s:hipFrAffStSig,n:[['<','0.001',44.9,1.05,36,0],['<','0.001',17.7,0.15,36,0],['=','0.008',8.1,-0.12,30,1],['=','0.014',97.7,-0.14,30,1]]},
  {g:2,r:1,c:1,d:hipFrAffSw,s:hipFrAffSwSig,n:[['<','0.001',2.3,0.8,36,0],['<','0.001',60.6,0.8,36,0]]},
  {g:2,r:1,c:2,d:hipFrLesSt,s:hipFrLesStSig,n:[['<','0.001',18.2,0.16,36,0]]},
  {g:2,r:1,c:3,d:hipFrLesSw,s:hipFrLesSwSig,n:[['<','0.001',2.8,0.82,36,0],['=','0.010',73.6,0.075,30,1],['<','0.001',89.5,-0.17,36,1]]},
  {g:2,r:2,c:0,d:hipTrAffSt,s:hipTrAffStSig,n:[['<','0.001',5.9,-0.126,36,0]]},
  {g:2,r:2,c:1,d:hipTrAffSw,s:hipTrAffSwSig,n:[['=','0.014',73.5,-0.2,30,1],['<','0.001',89.5,-0.37,36,1]]},
  {g:2,r:2,c:2,d:hipTrLesSt,s:hipTrLesStSig,n:[['=','0.034',68.4,0.315,30,0],['=','0.006',16.6,-0.066,30,0]]},
  {g:2,r:2,c:3,d:hipTrLesSw,s:hipTrLesSwSig,n:[['=','0.013',85.4,-0.19,30,1],['=','0.012',95.7,-0.19,30,1]]}
];

// ---- layout & style
var FONT = "'Liberation Sans', Arial, Helvetica, sans-serif";
var COL_LEFT = [161, 594, 1071, 1505];
var ROW_TOP = [[142,378,613],[907,1143,1378],[1664,1899,2134]];
var PW = 324, PH = 165;
var Y_RANGE = [
  {min:-1.13, max:2.2, ticks:yTicksSag, dec:0},
  {min:-0.29, max:1.4, ticks:yTicksFr, dec:1},
  {min:-0.36, max:0.53, ticks:yTicksTr, dec:2}
];
var SPAN_COLOR = '#bfd0f3';
var GRAY_BAND = 'rgba(140,140,140,0.36)';
var RED_BAND = 'rgba(238,55,55,0.36)';
var RED = '#ee1414';

function fmt(v, dec){
  return (v < 0 ? '\u2212' : '') + Math.abs(v).toFixed(dec);
}
function pts(arr){ return X.map(function(x, j){ return [x, arr[j]]; }); }

// sd band as a filled polygon between mean+sd and mean-sd
function bandSeries(i, mean, sd, color, z){
  return {
    type:'custom', xAxisIndex:i, yAxisIndex:i, z:z, silent:true, clip:true,
    data:[[0, 0]],
    renderItem:function(params, api){
      var poly = [], j;
      for (j = 0; j < X.length; j++) poly.push(api.coord([X[j], mean[j] + sd[j]]));
      for (j = X.length - 1; j >= 0; j--) poly.push(api.coord([X[j], mean[j] - sd[j]]));
      return {type:'polygon', shape:{points:poly, smooth:0.25}, style:{fill:color}};
    }
  };
}

var grids = [], xAxes = [], yAxes = [], series = [], graphics = [];

PANELS.forEach(function(p, i){
  var L = COL_LEFT[p.c] + (p.g === 1 && p.c >= 2 ? 8 : 0);
  var T = ROW_TOP[p.g][p.r];
  var rg = Y_RANGE[p.r];
  var txt = PLANE_TEXT[p.g][p.r];
  var B = T + PH;

  grids.push({left:L, top:T, width:PW, height:PH});
  xAxes.push({
    type:'value', gridIndex:i, min:0, max:100, interval:25,
    axisLine:{show:false},
    axisTick:{show:true, length:6, lineStyle:{color:'#222', width:1.4}},
    axisLabel:{color:'#000', fontSize:27, fontFamily:FONT, margin:7},
    splitLine:{show:false}
  });
  yAxes.push({
    type:'value', gridIndex:i, min:rg.min, max:rg.max,
    axisLine:{show:false},
    axisTick:{show:true, length:6, customValues:rg.ticks, lineStyle:{color:'#222', width:1.4}},
    axisLabel:{color:'#000', fontSize:27, fontFamily:FONT, margin:8, customValues:rg.ticks,
      formatter:(function(dec){ return function(v){ return fmt(v, dec); }; })(rg.dec)},
    splitLine:{show:false}
  });

  // significant phases
  series.push({
    type:'custom', xAxisIndex:i, yAxisIndex:i, z:1, silent:true, clip:true,
    data:p.s,
    renderItem:function(params, api){
      var cs = params.coordSys;
      var x0 = api.coord([api.value(0), 0])[0];
      var x1 = api.coord([api.value(1), 0])[0];
      return {type:'rect', shape:{x:x0, y:cs.y, width:x1 - x0, height:cs.height}, style:{fill:SPAN_COLOR}};
    }
  });

  // sd bands
  series.push(bandSeries(i, p.d[0], p.d[1], GRAY_BAND, 2));
  series.push(bandSeries(i, p.d[2], p.d[3], RED_BAND, 3));

  // means
  series.push({type:'line', xAxisIndex:i, yAxisIndex:i, z:4, smooth:0.3, symbol:'none', silent:true,
    lineStyle:{color:'#000', width:3}, data:pts(p.d[0]),
    markLine:{silent:true, symbol:['none','none'], label:{show:false},
      lineStyle:{type:'dotted', color:'#555', width:1}, data:[{yAxis:0}]}});
  series.push({type:'line', xAxisIndex:i, yAxisIndex:i, z:5, smooth:0.3, symbol:'none', silent:true,
    lineStyle:{color:RED, width:3}, data:pts(p.d[2])});

  // frame
  graphics.push({type:'rect', z:50, silent:true, shape:{x:L, y:T, width:PW, height:PH},
    style:{fill:'none', stroke:'#9a9a9a', lineWidth:1.5}});
  // title
  graphics.push({type:'text', z:50, silent:true, x:L + PW / 2, y:T - 17,
    style:{text:txt[0], fontSize:30, fontFamily:FONT, fill:'#000', align:'center', verticalAlign:'middle'}});
  // direction arrow and labels
  var ax = L + 5;
  graphics.push({type:'line', z:50, silent:true, shape:{x1:ax, y1:T + 6, x2:ax, y2:B - 6},
    style:{stroke:'#222', lineWidth:1.2}});
  graphics.push({type:'polygon', z:50, silent:true, shape:{points:[[ax, T + 2],[ax - 2.5, T + 9],[ax + 2.5, T + 9]]},
    style:{fill:'#222'}});
  graphics.push({type:'polygon', z:50, silent:true, shape:{points:[[ax, B - 2],[ax - 2.5, B - 9],[ax + 2.5, B - 9]]},
    style:{fill:'#222'}});
  graphics.push({type:'text', z:50, silent:true, x:L + 10, y:T + 14,
    style:{text:txt[1], fontSize:27.5, fontFamily:FONT, fill:'#000', align:'left', verticalAlign:'middle'}});
  graphics.push({type:'text', z:50, silent:true, x:L + 10, y:B - 14,
    style:{text:txt[2], fontSize:27.5, fontFamily:FONT, fill:'#000', align:'left', verticalAlign:'middle'}});
  // phase label under the bottom row
  if (p.r === 2) {
    graphics.push({type:'text', z:50, silent:true, x:L + PW / 2, y:B + 47,
      style:{text:PHASE_NAMES[p.c], fontSize:30, fontFamily:FONT, fill:'#000', align:'center', verticalAlign:'middle'}});
  }
  // p-values
  p.n.forEach(function(nt){
    var gx = L + nt[2] / 100 * PW;
    var gy = T + (rg.max - nt[3]) / (rg.max - rg.min) * PH;
    graphics.push({type:'text', z:60, silent:true, x:gx, y:gy, rotation:nt[5] ? Math.PI / 2 : 0,
      style:{text:'{i|p} ' + nt[0] + ' ' + nt[1], fontSize:nt[4], fontFamily:FONT, fill:'#000',
        align:'left', verticalAlign:'middle',
        rich:{i:{fontStyle:'italic', fontSize:nt[4], fontFamily:FONT, fill:'#000'}}}});
  });
});

// column titles, row labels, outer boxes
graphics.push({type:'text', z:50, silent:true, x:481, y:58,
  style:{text:'Affected limb vs. Control', fontSize:59.5, fontFamily:FONT, fill:'#000', align:'center', verticalAlign:'middle'}});
graphics.push({type:'text', z:50, silent:true, x:1418, y:58,
  style:{text:'Less-affected limb vs. Control', fontSize:59.5, fontFamily:FONT, fill:'#000', align:'center', verticalAlign:'middle'}});
[458, 1236, 2000].forEach(function(cy, g){
  graphics.push({type:'text', z:50, silent:true, x:56, y:cy, rotation:Math.PI / 2,
    style:{text:JOINT_NAMES[g], fontSize:62, fontFamily:FONT, fill:'#000', align:'center', verticalAlign:'middle'}});
});
[[61, 950], [977, 1862]].forEach(function(bx){
  graphics.push({type:'rect', z:40, silent:true, shape:{x:bx[0], y:94, width:bx[1] - bx[0], height:2379 - 94},
    style:{fill:'none', stroke:'#222', lineWidth:2}});
  [855, 1620].forEach(function(yy){
    graphics.push({type:'line', z:40, silent:true, shape:{x1:bx[0], y1:yy, x2:bx[1], y2:yy},
      style:{stroke:'#222', lineWidth:2}});
  });
});

var chart = echarts.init(document.getElementById('chart'));
chart.setOption({
  animation:false,
  backgroundColor:'#fff',
  grid:grids,
  xAxis:xAxes,
  yAxis:yAxes,
  series:series,
  graphic:{elements:graphics}
});
</script>
</body>
</html>
